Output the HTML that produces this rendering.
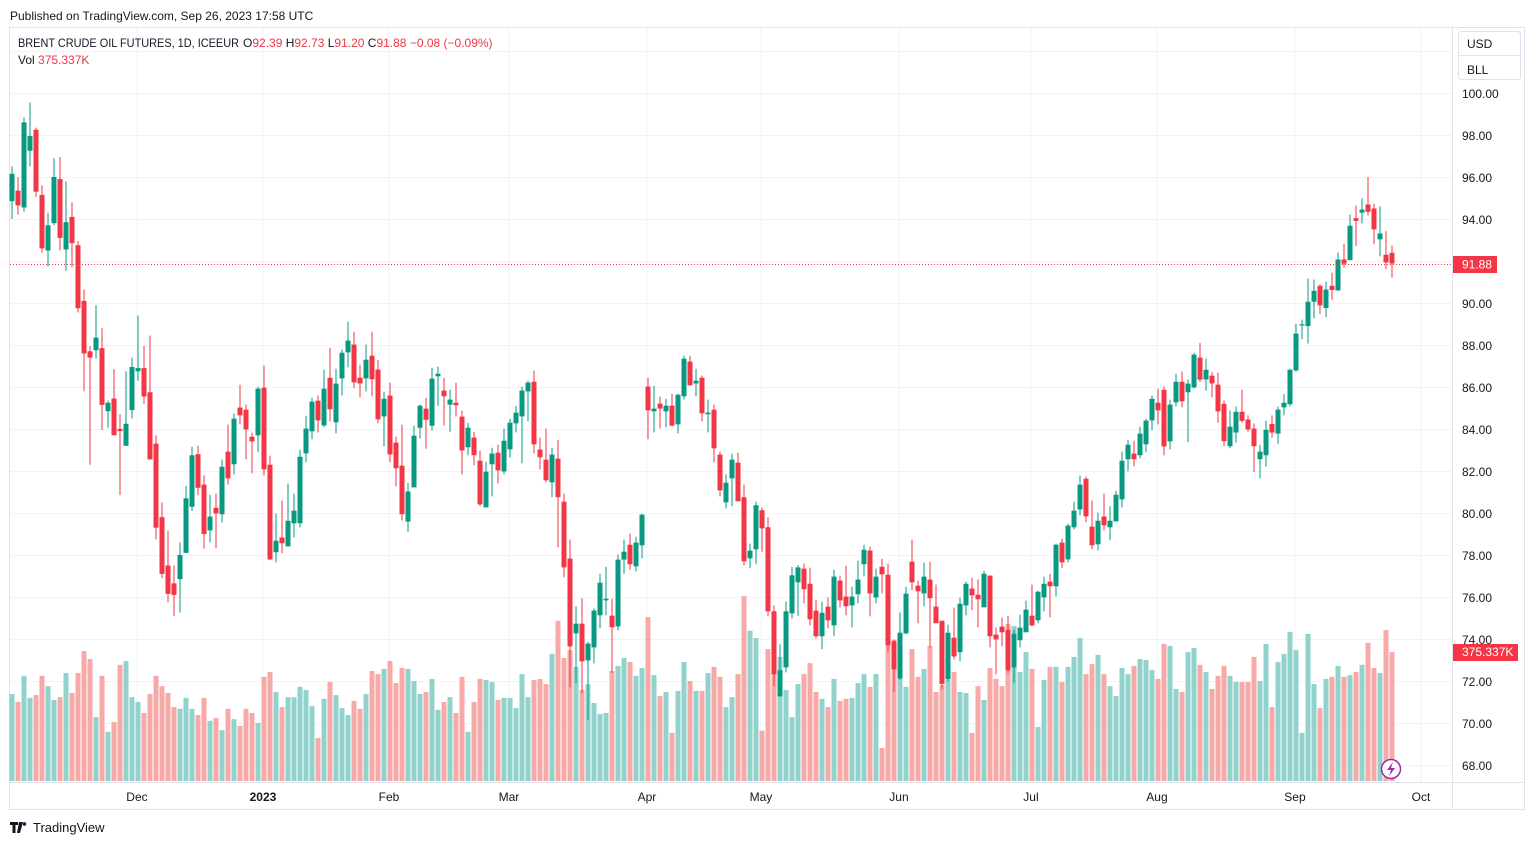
<!DOCTYPE html>
<html><head><meta charset="utf-8"><style>
body{margin:0;background:#fff;font-family:"Liberation Sans",sans-serif;}
svg{display:block}
text{font-family:"Liberation Sans",sans-serif;}
</style></head><body>
<svg id="c" width="1534" height="845" viewBox="0 0 1534 845">
<rect x="0" y="0" width="1534" height="845" fill="#fff"/>
<text x="10" y="20" font-size="12" fill="#131722">Published on TradingView.com, Sep 26, 2023 17:58 UTC</text>
<rect x="9.5" y="27.5" width="1515" height="782" fill="none" stroke="#e0e3eb"/>
<line x1="1452.5" y1="28" x2="1452.5" y2="810" stroke="#e0e3eb"/>
<line x1="10" y1="782.5" x2="1524" y2="782.5" stroke="#e0e3eb"/>
<g id="grid"></g>
<g id="vols"></g>
<g id="candles"></g>
<g id="axis"></g>
<g>
<text x="18" y="47" font-size="12" fill="#131722" textLength="221" lengthAdjust="spacingAndGlyphs">BRENT CRUDE OIL FUTURES, 1D, ICEEUR</text>
<text x="243" y="47" font-size="12" fill="#131722">O<tspan fill="#f23645">92.39</tspan> H<tspan fill="#f23645">92.73</tspan> L<tspan fill="#f23645">91.20</tspan> C<tspan fill="#f23645">91.88</tspan> <tspan fill="#f23645">−0.08 (−0.09%)</tspan></text>
<text x="18" y="64" font-size="12" fill="#131722">Vol <tspan fill="#f23645">375.337K</tspan></text>
</g>
<g>
<rect x="1458.5" y="31.5" width="62" height="48" rx="3" fill="#fff" stroke="#e0e3eb"/>
<line x1="1459" y1="55.5" x2="1520" y2="55.5" stroke="#e0e3eb"/>
<text x="1467" y="48" font-size="12" fill="#131722">USD</text>
<text x="1467" y="74" font-size="12" fill="#131722">BLL</text>
</g>
<g>
<path d="M10 822h8v3h-2.5v8h-3v-8H10z M19 822h4l-3 11h-3z" fill="#131722"/>
<circle cx="24.5" cy="824" r="1.7" fill="#131722"/>
<text x="33" y="832" font-size="13" fill="#131722">TradingView</text>
</g>
<g>
<circle cx="1391" cy="769" r="9.5" fill="#fff" stroke="#9c27b0" stroke-width="1.5"/>
<path d="M1393 762l-6 8h4l-2 6 6-8h-4z" fill="#9c27b0"/>
</g>
</svg>
<script>
const opens=[94.85,95.35,94.55,97.25,98.25,95.15,92.5,93.8,95.9,92.55,94.1,92.75,90.1,87.7,87.75,87.85,84.85,85.45,84.0,83.2,84.9,86.75,86.9,85.75,83.3,79.8,77.5,76.65,76.85,78.1,80.3,82.8,81.35,79.17,80.25,79.94,82.92,82.32,85.02,84.92,83.63,83.7,85.97,82.3,78.13,78.83,78.41,79.51,79.51,82.84,83.89,85.35,84.17,86.44,84.32,86.41,87.65,88.02,86.44,86.41,87.49,86.83,84.6,85.59,83.35,82.25,79.59,81.22,84.06,84.97,84.16,86.51,85.83,85.16,85.25,84.59,83.13,83.59,82.49,80.27,82.32,82.87,81.98,83.03,84.27,84.6,85.79,86.25,83.02,82.54,81.46,82.59,80.54,77.83,74.27,74.73,72.98,73.6,75.13,75.84,75.11,74.6,77.78,78.49,77.46,78.46,86.02,84.84,85.21,84.84,85.11,84.22,85.56,87.21,86.17,86.44,84.7,84.92,82.78,80.51,81.65,82.4,80.75,77.84,78.27,80.13,79.32,75.32,71.27,72.65,75.22,76.7,77.35,76.63,75.35,74.13,75.54,74.65,76.78,76.02,75.6,76.13,77.56,78.21,75.98,77.44,77.06,73.89,72.11,74.27,77.68,76.54,76.17,76.83,75.54,74.87,72.08,74.06,73.37,75.6,76.4,76.11,75.51,77.02,74.21,74.59,74.44,72.65,73.94,74.32,75.11,74.89,75.98,76.73,76.51,78.59,77.79,79.32,80.17,81.63,79.35,78.51,79.83,79.32,79.6,80.65,82.56,82.83,82.75,83.27,84.41,85.25,85.87,83.41,85.27,86.25,85.75,85.98,87.4,86.36,86.54,86.11,85.2,83.18,83.83,84.82,84.45,84.02,82.56,82.75,84.24,83.78,85.03,85.18,86.79,88.93,88.9,90.06,90.82,89.76,90.82,90.6,92.07,92.04,94.04,94.3,94.69,94.5,93.03,92.3,92.39];
const highs=[96.5,96.0,98.85,99.55,98.35,95.6,94.3,96.9,96.95,95.8,94.8,92.95,90.65,87.95,89.9,88.8,85.35,86.85,84.7,86.75,87.4,89.4,87.95,88.45,83.7,80.5,79.15,77.5,78.6,81.3,83.15,83.2,81.8,80.87,80.92,82.54,84.2,84.73,86.11,85.16,83.83,86.02,87.02,82.73,79.97,80.59,81.4,80.92,83.02,84.63,85.49,85.59,86.83,87.87,86.87,87.78,89.11,88.63,87.06,88.02,88.63,87.3,85.78,86.21,83.63,84.2,81.43,84.16,85.16,85.49,86.92,86.97,86.44,85.87,86.21,84.87,84.3,83.87,82.97,82.44,83.11,83.25,84.02,84.49,85.11,86.02,86.3,86.78,83.59,84.02,83.11,83.49,80.92,78.73,75.56,75.94,73.87,75.46,77.11,77.44,75.92,78.02,78.73,79.02,78.87,79.97,86.44,86.06,85.54,85.44,85.68,85.68,87.49,87.49,86.87,86.54,85.4,85.16,82.92,81.84,82.83,82.87,81.35,78.54,80.54,80.27,79.79,75.6,73.75,75.79,77.44,77.51,77.59,77.4,75.87,75.78,75.97,77.3,77.02,77.49,76.49,77.73,78.49,78.4,77.35,77.82,77.59,73.98,75.27,76.49,78.73,76.78,77.63,77.68,76.59,74.87,74.68,75.49,75.97,76.73,76.92,76.84,77.25,77.02,74.54,75.02,75.11,74.44,75.16,75.83,76.59,76.3,76.97,77.11,78.54,78.78,79.49,80.54,81.78,81.73,80.6,80.02,80.92,80.32,81.06,82.92,83.49,83.44,84.11,84.49,85.59,85.92,86.02,85.4,86.63,86.73,86.35,87.63,88.1,87.35,86.71,86.67,85.35,84.88,85.07,85.87,84.65,84.26,83.25,84.39,84.65,85.07,85.66,86.88,89.01,89.21,91.16,91.12,90.9,91.02,91.44,92.4,92.82,94.21,94.64,94.99,96.0,94.73,94.6,93.42,92.73];
const lows=[94.0,94.2,94.35,96.5,95.05,92.4,91.75,93.7,92.5,91.55,91.7,89.55,85.8,82.3,87.35,83.95,84.05,83.7,80.85,83.2,84.5,86.3,85.2,82.55,78.75,76.9,75.75,75.1,75.25,78.1,80.1,80.85,78.3,78.6,78.32,79.54,81.35,81.84,84.22,82.56,81.89,82.89,81.79,77.75,77.65,78.08,78.41,78.84,79.32,82.41,83.51,83.84,84.08,84.37,83.79,85.6,86.94,85.94,85.51,85.79,85.56,84.27,83.17,82.41,81.27,79.65,79.11,81.22,83.54,83.06,83.92,85.11,84.16,83.87,84.59,81.84,82.75,82.27,80.32,80.27,80.79,81.41,81.84,82.65,83.84,82.37,84.37,82.84,82.08,81.46,80.75,78.37,76.94,71.7,71.89,71.41,70.13,72.84,74.51,75.13,72.38,74.41,77.11,77.3,77.22,77.84,83.51,83.84,84.03,84.08,84.13,83.79,85.41,86.08,85.56,84.37,83.84,82.41,80.79,80.22,80.32,80.56,77.51,77.37,77.56,78.16,75.08,71.75,71.27,72.41,74.98,75.1,75.7,74.65,74.03,73.51,74.51,74.13,75.51,75.13,74.56,75.7,76.98,75.08,75.7,76.17,73.37,71.49,72.06,74.22,76.32,74.75,75.56,73.6,74.75,71.6,71.98,73.03,72.94,75.13,75.37,74.56,75.51,73.6,72.32,73.65,72.38,71.89,73.6,74.32,74.6,74.75,75.32,75.03,76.03,77.37,77.65,79.22,79.89,79.56,78.27,78.22,79.17,78.7,79.6,80.27,81.98,82.22,82.6,82.89,83.94,84.22,82.75,83.03,85.08,85.03,83.37,85.94,86.23,85.83,85.51,84.3,83.18,83.09,83.35,84.3,83.87,81.96,81.64,82.2,83.59,83.3,84.65,85.07,86.73,88.28,88.07,89.27,89.48,89.33,90.15,90.58,91.68,92.04,92.71,93.79,94.17,92.8,92.22,91.61,91.2];
const closes=[96.15,94.65,98.6,97.95,95.3,92.6,93.7,96.0,93.1,93.85,92.85,89.75,87.6,87.4,88.35,85.15,85.25,83.7,83.9,84.25,86.95,86.9,85.55,82.55,79.3,77.1,76.15,76.1,78.0,80.7,82.75,81.2,79.0,79.83,79.98,82.2,81.65,84.49,84.65,83.98,83.41,85.92,82.08,77.79,78.68,78.56,79.63,80.11,82.68,84.02,85.3,84.41,85.92,84.94,86.16,87.63,88.21,86.22,86.17,87.3,86.37,84.46,85.44,82.79,82.13,79.94,81.02,83.68,85.11,84.44,86.4,86.63,85.56,85.4,85.13,82.98,84.06,82.75,80.41,81.97,82.83,82.03,83.44,84.3,84.78,85.83,86.21,83.27,82.65,81.56,82.78,80.75,77.41,73.65,74.73,72.94,73.78,75.35,76.68,75.92,74.56,77.78,78.16,77.56,78.59,79.92,84.89,84.97,84.97,85.11,84.16,85.63,87.35,86.08,86.3,84.75,84.78,83.08,81.08,81.44,82.54,80.56,77.7,78.21,80.37,79.27,75.32,72.32,72.51,75.32,77.03,77.41,76.37,74.94,74.13,75.25,74.89,76.97,75.84,75.56,76.02,76.83,78.25,76.17,76.97,77.08,73.7,72.56,74.3,76.16,76.7,76.27,76.97,75.94,74.75,71.86,74.3,73.17,75.68,76.63,76.08,75.89,77.11,74.13,73.98,74.32,72.51,74.25,74.54,75.4,74.65,76.25,76.63,76.51,78.49,77.65,79.4,80.11,81.35,79.84,78.46,79.63,79.41,79.63,80.87,82.49,83.25,82.56,83.78,84.4,85.44,84.89,83.17,85.16,86.25,85.32,86.16,87.54,86.35,86.82,86.17,84.84,83.42,84.11,84.82,84.39,83.98,83.18,82.92,83.96,83.83,84.92,85.25,86.82,88.54,88.99,90.06,90.58,89.89,90.64,90.62,92.07,91.87,93.68,93.91,94.45,94.34,93.51,93.31,91.93,91.88];
const volumes=[253,230,306,242,250,306,276,236,244,314,256,314,378,355,186,306,143,172,338,349,244,230,198,253,306,276,256,215,210,242,210,192,242,175,183,148,210,180,160,210,198,169,303,317,259,215,244,244,274,265,218,125,239,288,250,212,192,233,210,253,320,311,326,349,285,329,326,291,253,259,297,207,230,244,198,303,143,230,297,294,288,236,242,242,212,311,244,294,297,282,370,466,358,381,332,265,282,227,195,198,320,335,358,346,306,329,477,308,247,259,140,262,346,291,262,262,314,332,303,215,244,311,538,437,416,146,384,410,361,265,186,282,311,343,259,239,215,297,233,239,242,285,311,274,311,96,442,410,297,274,384,303,326,393,259,279,294,317,259,256,140,276,236,329,297,276,457,451,317,375,326,157,294,332,332,288,332,361,416,311,340,367,311,276,247,329,311,335,355,352,323,297,399,393,268,259,375,387,338,317,268,306,335,306,288,288,288,361,291,399,215,346,370,434,381,140,428,282,212,297,303,335,303,308,317,338,402,329,314,439,375];
const priceTicks=[100,98,96,94,92,90,88,86,84,82,80,78,76,74,72,70,68];
const dateLabels=["Dec","2023","Feb","Mar","Apr","May","Jun","Jul","Aug","Sep","Oct"];
const dateIdx=[20.83,41.83,62.83,82.83,105.83,124.83,147.83,169.83,190.83,213.83,234.83];
const lastClose=91.88, lastVol=375.337;

const NS="http://www.w3.org/2000/svg";
const yP=p=>93+(100-p)*21;
const xI=i=>12+6*i;
const yV=v=>781-v*(129/lastVol);
function mk(tag,attrs,parent){const e=document.createElementNS(NS,tag);for(const k in attrs)e.setAttribute(k,attrs[k]);parent.appendChild(e);return e;}
const grid=document.getElementById('grid'),vg=document.getElementById('vols'),cg=document.getElementById('candles'),ax=document.getElementById('axis');
priceTicks.forEach(p=>{
  const l=mk('line',{x1:10,x2:1452,y1:yP(p)+.5,y2:yP(p)+.5,stroke:'#f0f3fa'},grid);
  
  
  const t=mk('text',{x:1462,y:yP(p)+5,'font-size':12,fill:'#131722'},ax);
  t.textContent=p.toFixed(2);
  
  
});
[51].forEach(y=>{const l=mk('line',{x1:10,x2:1452,y1:y+.5,y2:y+.5,stroke:'#f0f3fa'},grid);
  
  });
dateLabels.forEach((d,k)=>{
  const x=xI(dateIdx[k]);
  const l=mk('line',{x1:x,x2:x,y1:28,y2:782,stroke:'#f0f3fa'},grid);
  
  
  const t=mk('text',{x:x,y:801,'font-size':12,fill:'#131722','text-anchor':'middle','font-weight':d==='2023'?'bold':'normal'},ax);
  t.textContent=d;
  
  
});
closes.forEach((c,i)=>{
  const o=opens[i],up=c>=opens[i];
  const x=xI(i);
  const vb=mk('rect',{x:x-2.5,y:yV(volumes[i]),width:5,height:781-yV(volumes[i]),fill:up?'#92d2cc':'#f7a9a7'},vg);
  
  
  const col=up?'#089981':'#f23645';
  const g=mk('g',{},cg);
  
  
  mk('line',{x1:x,x2:x,y1:yP(highs[i]),y2:yP(lows[i]),stroke:col,'stroke-width':1},g);
  const top=yP(Math.max(o,c)),bot=yP(Math.min(o,c));
  mk('rect',{x:x-2.5,y:top,width:5,height:Math.max(1,bot-top),fill:col},g);
});
const yl=Math.round(yP(lastClose))+0.5;
const pl=mk('line',{x1:10,x2:1452,y1:yl,y2:yl,stroke:'#f23645','stroke-dasharray':'1,2'},ax);


const pr=mk('rect',{x:1453,y:yl-8.5,width:44,height:17,fill:'#f23645'},ax);


const pt=mk('text',{x:1462,y:yl+4,'font-size':12,fill:'#fff'},ax);pt.textContent=lastClose.toFixed(2);


const yv=yV(lastVol);
const vr=mk('rect',{x:1453,y:yv-8,width:65,height:17,fill:'#f23645'},ax);


const vt=mk('text',{x:1462,y:yv+4,'font-size':12,fill:'#fff'},ax);vt.textContent=lastVol.toFixed(3)+'K';


</script>
</body></html>
